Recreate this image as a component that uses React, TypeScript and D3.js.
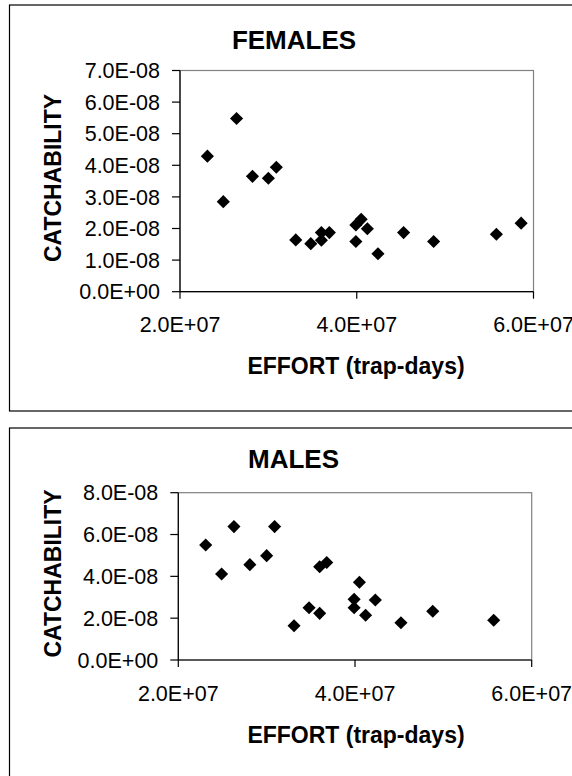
import React from "react";
import * as d3 from "d3";

// ---- data ----
const femaleEffort = [2.31e7, 2.49e7, 2.64e7, 2.82e7, 3.0e7, 3.09e7, 3.31e7, 3.48e7, 3.6e7, 3.6e7, 3.69e7, 3.99e7, 4.05e7, 3.99e7, 4.12e7, 4.24e7, 4.53e7, 4.87e7, 5.58e7, 5.86e7];
const femaleCatch = [4.29e-8, 2.85e-8, 5.48e-8, 3.65e-8, 3.59e-8, 3.94e-8, 1.64e-8, 1.52e-8, 1.87e-8, 1.63e-8, 1.87e-8, 2.11e-8, 2.29e-8, 1.59e-8, 1.99e-8, 1.2e-8, 1.87e-8, 1.59e-8, 1.82e-8, 2.17e-8];
const maleEffort = [2.31e7, 2.49e7, 2.63e7, 2.81e7, 3.0e7, 3.09e7, 3.31e7, 3.48e7, 3.6e7, 3.6e7, 3.68e7, 3.99e7, 3.99e7, 4.05e7, 4.12e7, 4.23e7, 4.52e7, 4.88e7, 5.57e7];
const maleCatch = [5.5e-8, 4.11e-8, 6.38e-8, 4.56e-8, 4.99e-8, 6.38e-8, 1.64e-8, 2.5e-8, 4.46e-8, 2.23e-8, 4.66e-8, 2.9e-8, 2.5e-8, 3.72e-8, 2.14e-8, 2.87e-8, 1.78e-8, 2.33e-8, 1.9e-8];
const xTicks = [2e7, 4e7, 6e7];
const femaleYTicks = [0, 1e-8, 2e-8, 3e-8, 4e-8, 5e-8, 6e-8, 7e-8];
const maleYTicks = [0, 2e-8, 4e-8, 6e-8, 8e-8];
const titles = ["FEMALES", "MALES"];
const xTitle = "EFFORT (trap-days)";
const yTitle = "CATCHABILITY";

const FONT = "'Liberation Sans', Arial, sans-serif";

function sci(v: number): string {
  if (v === 0) return "0.0E+00";
  const e = Math.floor(Math.log10(Math.abs(v)) + 1e-9);
  const m = v / Math.pow(10, e);
  const sign = e < 0 ? "-" : "+";
  const ae = Math.abs(e);
  return m.toFixed(1) + "E" + sign + (ae < 10 ? "0" + ae : String(ae));
}

type Layout = {
  boxTop: number;
  boxBottom: number;
  left: number;
  right: number;
  top: number;
  bottom: number;
  titleX: number;
  titleY: number;
  yTitleCenter: number;
};

function Panel({
  title, xs, ys, yTicks, yMax, L,
}: { title: string; xs: number[]; ys: number[]; yTicks: number[]; yMax: number; L: Layout }) {
  const x = d3.scaleLinear().domain([2e7, 6e7]).range([L.left, L.right]);
  const y = d3.scaleLinear().domain([0, yMax]).range([L.bottom, L.top]);
  const diamond = d3.symbol().type(d3.symbolSquare).size(86)();
  return (
    <g>
      <rect x={9.5} y={L.boxTop} width={600} height={L.boxBottom - L.boxTop} fill="#fff" stroke="#000" strokeWidth={1.2} />
      <text x={L.titleX} y={L.titleY} textAnchor="middle" fontFamily={FONT} fontWeight="bold" fontSize={26}>{title}</text>
      {/* plot area border */}
      <rect x={L.left} y={L.top} width={L.right - L.left} height={L.bottom - L.top} fill="none" stroke="#808080" strokeWidth={1.2} />
      {/* axes */}
      <line x1={L.left} x2={L.left} y1={L.top} y2={L.bottom} stroke="#000" strokeWidth={1.2} />
      <line x1={L.left} x2={L.right} y1={L.bottom} y2={L.bottom} stroke="#000" strokeWidth={1.2} />
      {yTicks.map((t) => (
        <g key={"y" + t}>
          <line x1={L.left - 8} x2={L.left} y1={y(t)} y2={y(t)} stroke="#000" strokeWidth={1.2} />
          <text x={L.left - 20} y={y(t)} dy="0.36em" textAnchor="end" fontFamily={FONT} fontSize={21.5}>{sci(t)}</text>
        </g>
      ))}
      {xTicks.map((t) => (
        <g key={"x" + t}>
          <line x1={x(t)} x2={x(t)} y1={L.bottom} y2={L.bottom + 7} stroke="#000" strokeWidth={1.2} />
          <text x={x(t)} y={L.bottom + 40.7} textAnchor="middle" fontFamily={FONT} fontSize={21.5}>{sci(t)}</text>
        </g>
      ))}
      <text x={356} y={L.bottom + 82.5} textAnchor="middle" fontFamily={FONT} fontWeight="bold" fontSize={23}>{xTitle}</text>
      <text transform={`translate(61,${L.yTitleCenter}) rotate(-90)`} textAnchor="middle" fontFamily={FONT} fontWeight="bold" fontSize={23}>{yTitle}</text>
      {xs.map((v, i) => (
        <path key={i} d={diamond as string} transform={`translate(${x(v)},${y(ys[i])}) rotate(45)`} fill="#000" />
      ))}
    </g>
  );
}

export default function App() {
  const top: Layout = { boxTop: 5, boxBottom: 411, left: 180, right: 533.5, top: 70.5, bottom: 291.7, titleX: 294, titleY: 49.3, yTitleCenter: 178 };
  const bot: Layout = { boxTop: 428, boxBottom: 800, left: 178.3, right: 531.7, top: 492.7, bottom: 660, titleX: 293.5, titleY: 467.7, yTitleCenter: 573.5 };
  return (
    <svg width={572} height={776} style={{ position: "absolute", left: 0, top: 0, background: "#fff" }}>
      <Panel title={titles[0]} xs={femaleEffort} ys={femaleCatch} yTicks={femaleYTicks} yMax={7e-8} L={top} />
      <Panel title={titles[1]} xs={maleEffort} ys={maleCatch} yTicks={maleYTicks} yMax={8e-8} L={bot} />
    </svg>
  );
}
